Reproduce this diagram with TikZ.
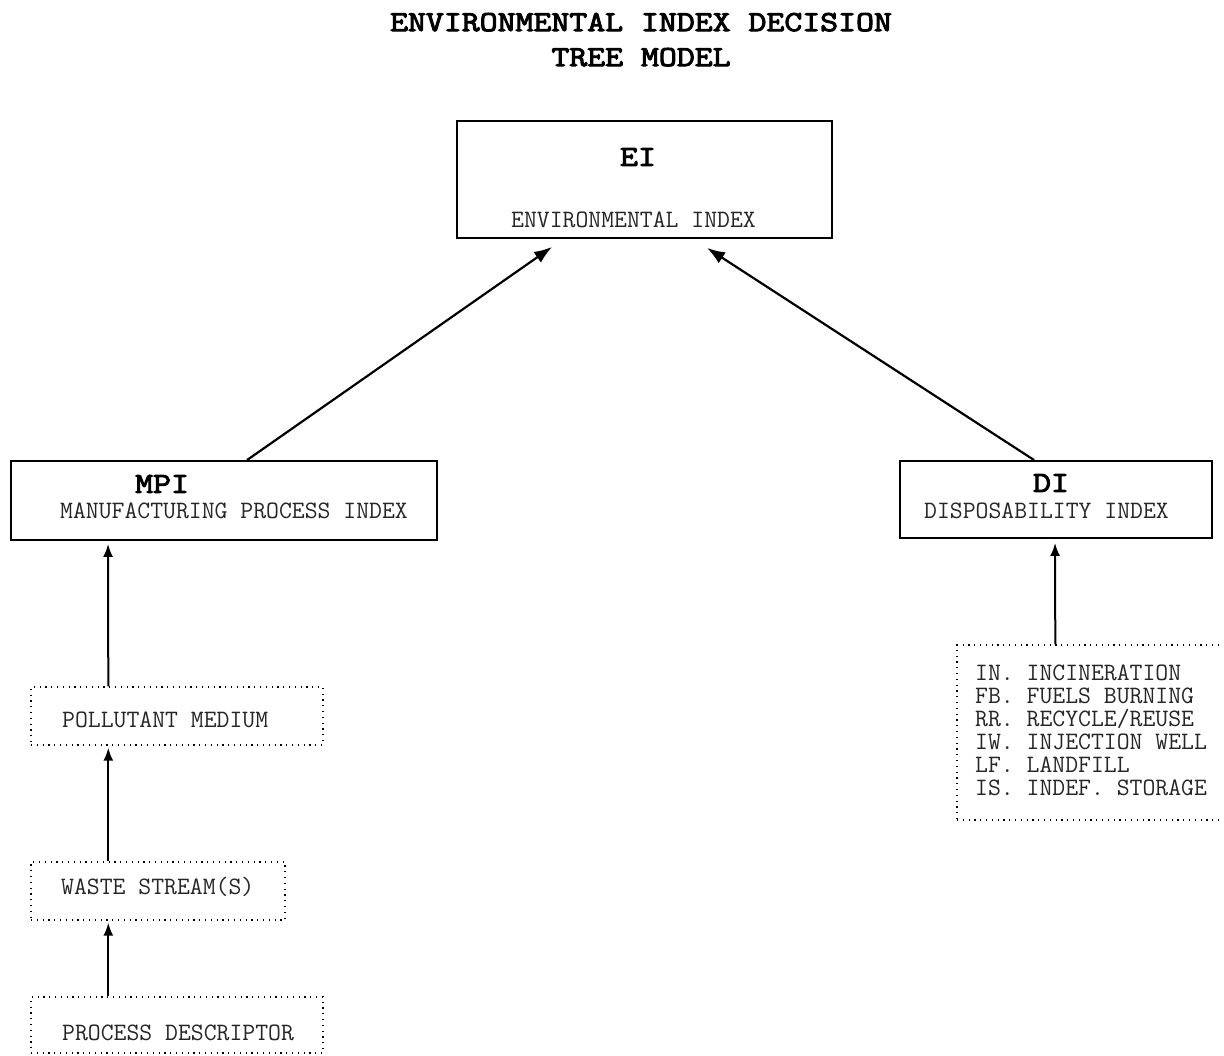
\documentclass[tikz,border=0pt]{standalone}
\usepackage{fontspec}
\newfontfamily\typew{Latin Modern Mono}
\newfontfamily\typewbold{Latin Modern Mono}[FakeStretch=1.2, FakeBold=3.5]
\usetikzlibrary{arrows.meta}
\tikzset{
  x=1pt, y=-1pt,
  solidbox/.style={draw, line width=1.9pt, inner sep=0pt},
  dotbox/.style={draw, line width=1.4pt, dash pattern=on 1.2pt off 4.6pt, inner sep=0pt},
  big/.style={font=\typewbold\fontsize{29}{36}\selectfont, inner sep=0pt, text depth=0pt},
  small/.style={font=\typew\fontsize{25}{23}\selectfont, text=black!85, inner sep=0pt, text depth=0pt},
  arr/.style={line width=2pt, -{Latex[length=13pt,width=10pt]}},
  diagarr/.style={line width=2.2pt, -{Latex[length=18pt,width=13pt]}}
}
\begin{document}
\begin{tikzpicture}
\useasboundingbox (0,0) rectangle (1224,1056);
\fill[white] (0,0) rectangle (1224,1056);

% title
\node[big] (t1) at (641,22) {ENVIRONMENTAL INDEX DECISION};
\node[big] (t2) at (641,57) {TREE MODEL};

% top box
\node[solidbox, minimum width=375pt, minimum height=117pt] (ei) at (644.5,179.5) {};
\node[big] (eil) at (638,157) {EI};
\node[small] (eit) at (633.5,220) {ENVIRONMENTAL INDEX};

% manufacturing process index
\node[solidbox, minimum width=426pt, minimum height=79pt] (mpi) at (224,500.5) {};
\node[big, anchor=west] (mpil) at (135,484) {MPI};
\node[small, anchor=west] (mpit) at (60,511) {MANUFACTURING PROCESS INDEX};

% disposability index
\node[solidbox, minimum width=312pt, minimum height=77pt] (di) at (1056,499.5) {};
\node[big] (dil) at (1051,483) {DI};
\node[small] (dit) at (1046.5,511) {DISPOSABILITY INDEX};

% inputs to MPI
\node[dotbox, minimum width=292pt, minimum height=58pt] (pm) at (177,716) {};
\node[small, anchor=west] (pmt) at (62,720) {POLLUTANT MEDIUM};
\node[dotbox, minimum width=254pt, minimum height=58pt] (ws) at (158,891) {};
\node[small, anchor=west] (wst) at (61,886) {WASTE STREAM(S)};
\node[dotbox, minimum width=292pt, minimum height=56pt] (pd) at (177,1025) {};
\node[small, anchor=west] (pdt) at (62,1033) {PROCESS DESCRIPTOR};

% disposal options
\node[dotbox, minimum width=290pt, minimum height=175pt] (dl) at (1102,732.5) {};
\node[small, anchor=north west, align=left] (dlt) at (975,665) {IN. INCINERATION\\FB. FUELS BURNING\\RR. RECYCLE/REUSE\\IW. INJECTION WELL\\LF. LANDFILL\\IS. INDEF. STORAGE};

% connectors
\draw[diagarr] ([xshift=237pt]mpi.north west) -- ([xshift=96pt,yshift=-8pt]ei.south west);
\draw[diagarr] ([xshift=135pt]di.north west) -- ([xshift=251pt,yshift=-9pt]ei.south west);
\draw[arr] ([xshift=78pt]pm.north west) -- ([xshift=98pt,yshift=-3pt]mpi.south west);
\draw[arr] ([xshift=78pt]ws.north west) -- ([xshift=78pt,yshift=-2pt]pm.south west);
\draw[arr] ([xshift=78pt]pd.north west) -- ([xshift=78pt,yshift=-2pt]ws.south west);
\draw[arr] ([xshift=99pt]dl.north west) -- ([xshift=156pt,yshift=-4pt]di.south west);
\end{tikzpicture}
\end{document}
